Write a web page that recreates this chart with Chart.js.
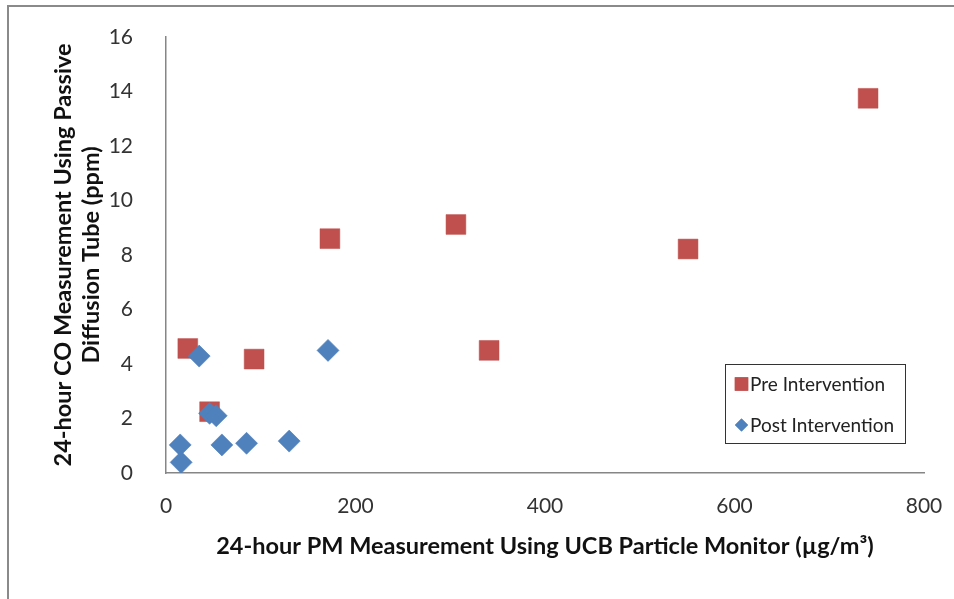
<!DOCTYPE html>
<html>
<head>
<meta charset="utf-8">
<script src="https://cdn.jsdelivr.net/npm/chart.js@4/dist/chart.umd.min.js"></script>
<style>
html,body{margin:0;padding:0;background:#fff;}
#wrap{width:954px;height:599px;position:relative;}
</style>
</head>
<body>
<div id="wrap"><canvas id="c" width="954" height="599"></canvas></div>
<script>
const preLabel = "Pre Intervention";
const postLabel = "Post Intervention";
const preX = [23, 46, 93, 173, 306, 341, 551, 741];
const preY = [4.57, 2.25, 4.18, 8.6, 9.12, 4.5, 8.22, 13.75];
const postX = [15, 16, 35, 46, 53, 59, 85, 130, 171];
const postY = [1.03, 0.39, 4.29, 2.19, 2.1, 1.03, 1.09, 1.17, 4.5];
const xTicks = [0, 200, 400, 600, 800];
const yTicks = [0, 2, 4, 6, 8, 10, 12, 14, 16];
const xTitle = "24-hour PM Measurement Using UCB Particle Monitor (µg/m³)";
const yTitle = ["24-hour CO Measurement Using Passive", "Diffusion Tube (ppm)"];

const RED = "#C0504D";
const BLUE = "#4F81BD";
const FONT = "Lato, 'Open Sans', sans-serif";

const frame = {
  id: 'frame',
  beforeDraw(chart) {
    const ctx = chart.ctx;
    ctx.save();
    ctx.fillStyle = '#fff';
    ctx.fillRect(0, 0, chart.width, chart.height);
    ctx.strokeStyle = '#8a8a8a';
    ctx.lineWidth = 2;
    ctx.beginPath();
    ctx.moveTo(8, 599);
    ctx.lineTo(8, 6);
    ctx.lineTo(954, 6);
    ctx.stroke();
    ctx.restore();
  }
};

const boxLegend = {
  id: 'boxLegend',
  afterDraw(chart) {
    const ctx = chart.ctx;
    ctx.save();
    ctx.strokeStyle = '#333';
    ctx.lineWidth = 1;
    ctx.fillStyle = '#fff';
    ctx.fillRect(725.5, 364.5, 180, 79);
    ctx.strokeRect(725.5, 364.5, 180, 79);
    ctx.font = "19px " + FONT;
    ctx.textBaseline = 'middle';
    chart.data.datasets.slice().sort((a,b)=>a.legendIndex-b.legendIndex).forEach((ds, i) => {
      const cy = 384 + i * 41;
      ctx.fillStyle = ds.backgroundColor;
      Chart.helpers.drawPoint(ctx, {pointStyle: ds.pointStyle, radius: ds.legendRadius, borderWidth: 0}, 741.5, cy);
      ctx.fill();
      ctx.fillStyle = '#222';
      ctx.fillText(ds.label, 750, cy + 1);
    });
    ctx.restore();
  }
};

new Chart(document.getElementById('c'), {
  type: 'scatter',
  data: {
    datasets: [
      {
        label: postLabel,
        legendIndex: 1,
        legendRadius: 6.5,
        order: 0,
        data: postX.map((x, i) => ({x: x, y: postY[i]})),
        pointStyle: 'rectRot',
        pointRadius: 11,
        pointHoverRadius: 11,
        backgroundColor: BLUE,
        borderColor: 'rgba(79,129,189,0.6)',
        borderWidth: 1
      },
      {
        label: preLabel,
        legendIndex: 0,
        legendRadius: 9.5,
        order: 1,
        data: preX.map((x, i) => ({x: x, y: preY[i]})),
        pointStyle: 'rect',
        pointRadius: 14,
        pointHoverRadius: 14,
        backgroundColor: RED,
        borderColor: 'rgba(192,80,77,0.5)',
        borderWidth: 1
      }
    ]
  },
  options: {
    responsive: false,
    animation: false,
    events: [],
    layout: { autoPadding: false, padding: { left: 0, top: 37, right: 30, bottom: 0 } },
    plugins: {
      legend: { display: false },
      tooltip: { enabled: false }
    },
    scales: {
      x: {
        type: 'linear',
        min: 0, max: 800,
        afterBuildTicks: (s) => { s.ticks = xTicks.map(v => ({value: v})); },
        afterFit: (s) => { s.height = 126; s.paddingLeft = 0; s.paddingRight = 0; },
        grid: { display: false, drawTicks: false },
        border: { display: true, color: '#868686', width: 1.5 },
        ticks: { padding: 21, color: '#333', font: { family: FONT, size: 21 } },
        title: {
          display: true, text: xTitle, color: '#111',
          font: { family: FONT, size: 23.5, weight: 'bold' },
          padding: { top: 0, bottom: 38 }
        }
      },
      y: {
        type: 'linear',
        min: 0, max: 16,
        afterBuildTicks: (s) => { s.ticks = yTicks.map(v => ({value: v})); },
        afterFit: (s) => { s.width = 166; s.paddingTop = 0; s.paddingBottom = 0; },
        grid: { display: false, drawTicks: false },
        border: { display: true, color: '#868686', width: 1.5 },
        ticks: { padding: 33, color: '#333', font: { family: FONT, size: 21 } },
        title: {
          display: true, text: yTitle, color: '#111',
          font: { family: FONT, size: 23.5, weight: 'bold' },
          padding: { top: 49, bottom: 0 }
        }
      }
    }
  },
  plugins: [frame, boxLegend]
});
</script>
</body>
</html>
